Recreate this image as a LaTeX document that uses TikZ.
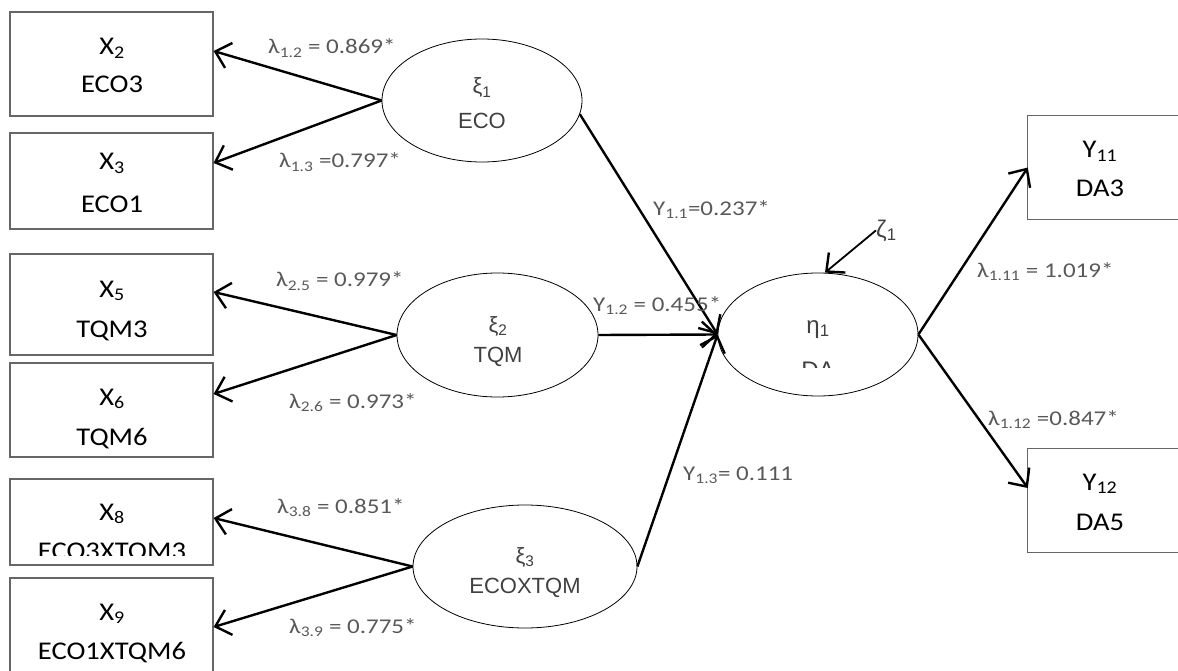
\documentclass[tikz,border=0pt]{standalone}
\usepackage{fontspec}
\setmainfont{Carlito}
\newfontfamily\arialf{Liberation Sans}
\newfontfamily\boxfont[FakeStretch=1.12]{Carlito}
\newfontfamily\lblfont[FakeStretch=1.19]{Carlito}
\usetikzlibrary{arrows.meta,shapes.geometric}
\definecolor{lblgrey}{HTML}{595959}
\definecolor{elgrey}{HTML}{404040}
\definecolor{boxgrey}{HTML}{666666}
\begin{document}
\begin{tikzpicture}[x=1pt,y=-1pt,
 obs/.style={draw=boxgrey, line width=1.2pt, minimum width=203pt, inner sep=0pt},
 obsopen/.style={inner sep=0pt, minimum width=140pt},
 openedge/.style={draw=boxgrey, line width=1.2pt},
 lat/.style={ellipse, draw=black, line width=0.8pt, inner sep=0pt},
 conn/.style={line width=2.4pt, -{Straight Barb[length=14pt,width=26pt,line width=2.4pt]}},
 lbl/.style={anchor=base west, inner sep=0pt, text=lblgrey, font=\lblfont\fontsize{21}{25}\selectfont},
 boxtxt/.style={anchor=base, inner sep=0pt, font=\boxfont\fontsize{25.5}{30}\selectfont},
 eltxt/.style={anchor=base, inner sep=0pt, text=elgrey, font=\arialf\fontsize{22}{26}\selectfont},
]
\useasboundingbox (0,0) rectangle (1178,671);
\clip (0,0) rectangle (1178,671);

% observed boxes
\node[obs, minimum height=104pt] (X2) at (111.5,64) {};
\node[obs, minimum height=96pt]  (X3) at (111.5,181) {};
\node[obs, minimum height=101pt] (X5) at (111.5,304.5) {};
\node[obs, minimum height=94pt]  (X6) at (111.5,410) {};
\node[obs, minimum height=86pt]  (X8) at (111.5,522) {};
\node[obs, minimum height=112pt] (X9) at (111.5,634) {};
\node[obsopen, minimum height=103pt] (Y11) at (1098,167.5) {};
\node[obsopen, minimum height=103pt] (Y12) at (1098,500.5) {};
\draw[openedge] ([xshift=20pt]Y11.north east) -- (Y11.north west) -- (Y11.south west) -- ([xshift=20pt]Y11.south east);
\draw[openedge] ([xshift=20pt]Y12.north east) -- (Y12.north west) -- (Y12.south west) -- ([xshift=20pt]Y12.south east);

% box texts
\node[boxtxt] (x2a) at (112,55) {X\textsubscript{2}};
\node[boxtxt] (x2b) at (112,93) {ECO3};
\node[boxtxt] (x3a) at (112,170) {X\textsubscript{3}};
\node[boxtxt] (x3b) at (112,213) {ECO1};
\node[boxtxt] (x5a) at (112,297) {X\textsubscript{5}};
\node[boxtxt] (x5b) at (112,337) {TQM3};
\node[boxtxt] (x6a) at (112,405) {X\textsubscript{6}};
\node[boxtxt] (x6b) at (112,445) {TQM6};
\node[boxtxt] (x8a) at (112,520) {X\textsubscript{8}};
\begin{scope}
\clip (0,0) rectangle (1178,555);
\node[boxtxt] (x8b) at (112,559) {ECO3XTQM3};
\end{scope}
\node[boxtxt] (x9a) at (112,620) {X\textsubscript{9}};
\node[boxtxt] (x9b) at (112,659) {ECO1XTQM6};
\node[boxtxt] (y11a) at (1100,158) {Y\textsubscript{11}};
\node[boxtxt] (y11b) at (1100,197) {DA3};
\node[boxtxt] (y12a) at (1100,490) {Y\textsubscript{12}};
\node[boxtxt] (y12b) at (1100,530) {DA5};

% latent ellipses
\node[lat, minimum width=200pt, minimum height=123pt] (xi1) at (482,100.5) {};
\node[lat, minimum width=201pt, minimum height=124pt] (xi2) at (497.5,335) {};
\node[lat, minimum width=224pt, minimum height=123pt] (xi3) at (525,566.5) {};
\node[lat, minimum width=200pt, minimum height=123pt] (eta) at (818,334.5) {};

\node[eltxt] (xi1a) at (482,94) {ξ\textsubscript{1}};
\node[eltxt] (xi1b) at (482,129) {ECO};
\node[eltxt] (xi2a) at (498,332) {ξ\textsubscript{2}};
\node[eltxt] (xi2b) at (498,362) {TQM};
\node[eltxt] (xi3a) at (525,563) {ξ\textsubscript{3}};
\node[eltxt] (xi3b) at (525,593) {ECOXTQM};
\node[eltxt, font=\arialf\fontsize{24}{28}\selectfont] (etaa) at (818,333) {η\textsubscript{1}};
\begin{scope}
\clip (0,0) rectangle (1178,367);
\node[eltxt, font=\arialf\fontsize{24}{28}\selectfont] (etab) at (818,378) {DA};
\end{scope}
\node[eltxt, anchor=base west, font=\arialf\fontsize{24}{28}\selectfont] (zeta) at (876,237) {ζ\textsubscript{1}};

% connectors
\draw[conn] (xi1.west) -- ([yshift=13pt]X2.east);
\draw[conn] (xi1.west) -- ([yshift=18pt]X3.east);
\draw[conn] (xi2.west) -- ([yshift=12.5pt]X5.east);
\draw[conn] (xi2.west) -- ([yshift=16pt]X6.east);
\draw[conn] (xi3.west) -- ([yshift=4pt]X8.east);
\draw[conn] (xi3.west) -- ([yshift=7pt]X9.east);
\draw[conn] (xi1.-8) -- (eta.west);
\draw[conn] (xi2.east) -- (eta.west);
\draw[conn] (xi3.east) -- (eta.west);
\draw[conn] (eta.east) -- (Y11.west);
\draw[conn] (eta.east) -- ([yshift=12.5pt]Y12.west);
\draw[conn, line width=1.8pt] (zeta.west) -- ([xshift=7pt]eta.north);

% labels
\node[lbl] (l12) at (268,54) {λ\textsubscript{1.2} = 0.869*};
\node[lbl] (l13) at (279,168) {λ\textsubscript{1.3} =0.797*};
\node[lbl] (l25) at (276,287) {λ\textsubscript{2.5} = 0.979*};
\node[lbl] (l26) at (289,408) {λ\textsubscript{2.6} = 0.973*};
\node[lbl] (l38) at (277,513) {λ\textsubscript{3.8} = 0.851*};
\node[lbl] (l39) at (289,633) {λ\textsubscript{3.9} = 0.775*};
\node[lbl] (g11) at (653,215) {Y\textsubscript{1.1}=0.237*};
\begin{scope}
\clip (0,0) rectangle (1178,313);
\node[lbl] (g12) at (593,311) {Y\textsubscript{1.2} = 0.455*};
\end{scope}
\begin{scope}
\clip (0,0) rectangle (1178,482);
\node[lbl] (g13) at (683,480) {Y\textsubscript{1.3}= 0.111};
\end{scope}
\node[lbl] (l111) at (977,277) {λ\textsubscript{1.11} = 1.019*};
\node[lbl] (l112) at (988,425) {λ\textsubscript{1.12} =0.847*};
\end{tikzpicture}
\end{document}
